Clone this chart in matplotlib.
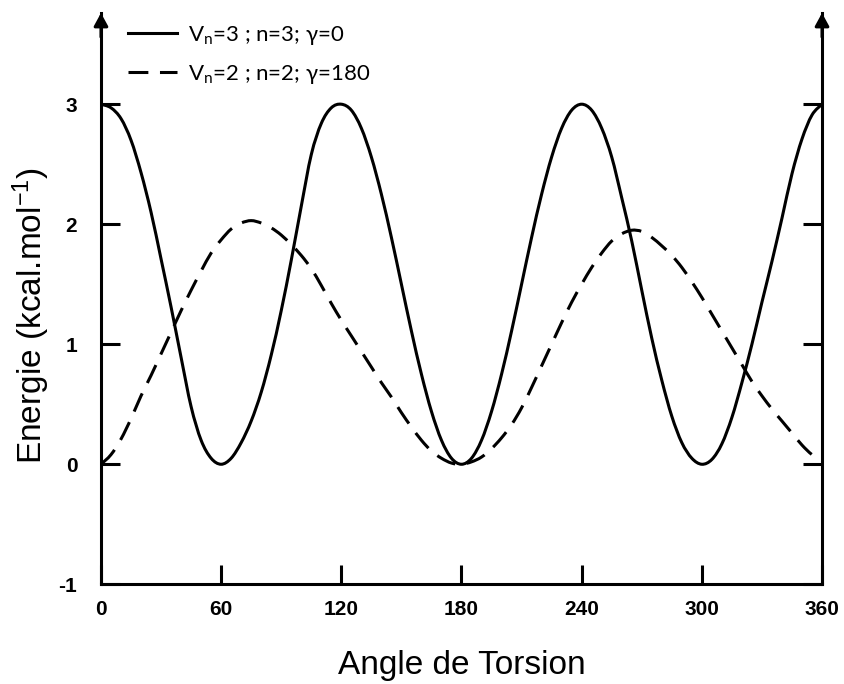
import matplotlib
matplotlib.use('Agg')
import numpy as np
import matplotlib.pyplot as plt
from matplotlib.path import Path
from matplotlib.patches import PathPatch
from matplotlib.lines import Line2D

# --- data (energy in kcal/mol every 5 degrees) ---
angles = list(range(0, 361, 5))

e_n3 = [3.00, 2.97, 2.88, 2.70, 2.43, 2.10, 1.71, 1.31, 0.89, 0.48, 0.20, 0.05, 0.00,
        0.05, 0.18, 0.36, 0.60, 0.91, 1.28, 1.70, 2.15, 2.58, 2.84, 2.97, 3.00,
        2.95, 2.80, 2.56, 2.25, 1.89, 1.50, 1.11, 0.75, 0.44, 0.20, 0.05, 0.00,
        0.05, 0.20, 0.44, 0.75, 1.11, 1.50, 1.89, 2.25, 2.56, 2.80, 2.95, 3.00,
        2.95, 2.80, 2.56, 2.22, 1.86, 1.45, 1.05, 0.70, 0.40, 0.18, 0.05, 0.00,
        0.04, 0.17, 0.39, 0.68, 1.00, 1.35, 1.69, 2.05, 2.42, 2.71, 2.91, 3.00]

e_n2 = [0.00, 0.08, 0.21, 0.38, 0.57, 0.74, 0.92, 1.10, 1.28, 1.45, 1.61, 1.76, 1.87,
        1.96, 2.01, 2.03, 2.01, 1.97, 1.91, 1.83, 1.74, 1.63, 1.49, 1.34, 1.20,
        1.07, 0.94, 0.81, 0.68, 0.56, 0.43, 0.31, 0.20, 0.11, 0.05, 0.01, 0.00,
        0.02, 0.06, 0.13, 0.22, 0.33, 0.47, 0.64, 0.82, 1.00, 1.18, 1.35, 1.50,
        1.64, 1.76, 1.86, 1.92, 1.95, 1.94, 1.89, 1.82, 1.74, 1.64, 1.52, 1.39,
        1.25, 1.11, 0.97, 0.83, 0.69, 0.57, 0.46, 0.36, 0.26, 0.16, 0.08, 0.03]

label_n3 = r'V$_{\mathregular{n}}$=3 ; n=3; γ=0'
label_n2 = r'V$_{\mathregular{n}}$=2 ; n=2; γ=180'
x_ticks = [0, 60, 120, 180, 240, 300, 360]
y_ticks = [-1, 0, 1, 2, 3]

LW = 2.2
DASH = (6.5, 3.8)
Y_TOP = 3.76
FONT = ['Liberation Sans', 'DejaVu Sans']


def smooth_path(x, y):
    """Excel-like smoothed line: cubic Bezier segments through every point."""
    p = np.column_stack([x, y]).astype(float)
    ext = np.vstack([p[0], p, p[-1]])
    verts = [p[0]]
    codes = [Path.MOVETO]
    for i in range(len(p) - 1):
        p0, p1, p2, p3 = ext[i], ext[i + 1], ext[i + 2], ext[i + 3]
        verts += [p1 + (p2 - p0) / 6.0, p2 - (p3 - p1) / 6.0, p2]
        codes += [Path.CURVE4] * 3
    return Path(verts, codes)


plt.rcParams['mathtext.default'] = 'regular'
plt.rcParams['axes.unicode_minus'] = False

fig = plt.figure(figsize=(8.45, 6.84), dpi=100)
ax = fig.add_axes([0.1195, 0.1458, 0.8533, 0.8352])

ax.add_patch(PathPatch(smooth_path(angles, e_n3), fill=False, edgecolor='black',
                       linewidth=LW, capstyle='butt'))
ax.add_patch(PathPatch(smooth_path(angles, e_n2), fill=False, edgecolor='black',
                       linewidth=LW, linestyle=(0, DASH), capstyle='butt'))

ax.set_xlim(0, 360)
ax.set_ylim(-1, Y_TOP)
ax.set_xticks(x_ticks)
ax.set_yticks(y_ticks)

ax.spines['top'].set_visible(False)
for side in ['left', 'right', 'bottom']:
    ax.spines[side].set_linewidth(LW)

ax.tick_params(axis='x', direction='in', length=14, width=LW, pad=11)
ax.tick_params(axis='y', direction='in', length=14, width=LW, pad=17,
               left=True, right=True)

for lab in ax.get_xticklabels() + ax.get_yticklabels():
    lab.set_fontfamily(FONT)
    lab.set_fontweight('bold')
    lab.set_fontsize(15)

# arrow heads on top of both vertical axes
for xa in [0, 360]:
    ax.annotate('', xy=(xa, Y_TOP), xytext=(xa, Y_TOP - 0.2),
                arrowprops=dict(arrowstyle='-|>,head_length=0.55,head_width=0.3',
                                color='black', lw=LW, mutation_scale=14,
                                shrinkA=0, shrinkB=0),
                annotation_clip=False)

ax.set_xlabel('Angle de Torsion', fontsize=24, family=FONT, labelpad=23)
ax.set_ylabel(r'Energie (kcal.mol$^{\mathregular{-1}}$)', fontsize=24, family=FONT)
ax.yaxis.set_label_coords(-0.068, 0.471)

handles = [Line2D([], [], color='black', linewidth=LW),
           Line2D([], [], color='black', linewidth=LW, dashes=DASH)]
ax.legend(handles, [label_n3, label_n2], loc='upper left',
          bbox_to_anchor=(0.037, 0.981), frameon=False,
          handlelength=2.2, handletextpad=0.5, labelspacing=0.72,
          borderpad=0, borderaxespad=0,
          prop={'family': ['Lato', 'DejaVu Sans'], 'size': 16})

fig.savefig('out.png', dpi=100)
